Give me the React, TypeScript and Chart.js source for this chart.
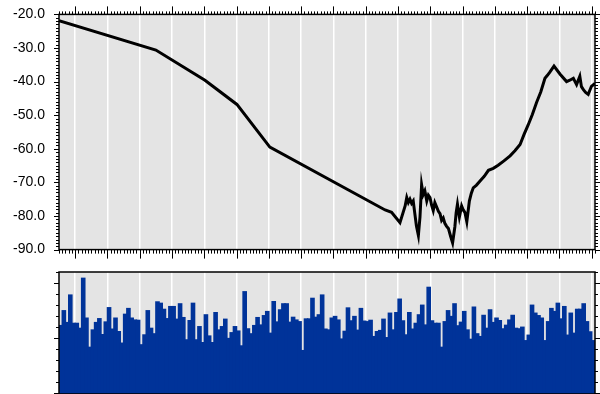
import React, { useEffect, useRef } from "react";
import { Chart, registerables } from "chart.js";

Chart.register(...registerables);

// ---- data ----
const X_MAX = 166;
const gridTicks = [5, 15, 25, 35, 45, 55, 65, 75, 85, 95, 105, 115, 125, 135, 145, 155, 165];
const yTickValues = [-90, -80, -70, -60, -50, -40, -30, -20];

const lineX = [
  0, 30.0, 45.2, 55.1, 65.3, 101.0, 103.0, 105.6, 107.2, 107.7, 108.2, 108.7, 109.2, 109.7, 110.2, 110.7,
  111.3, 111.8, 112.3, 112.8, 113.3, 113.9, 114.4, 114.9, 115.4, 115.9, 116.4, 117.0, 117.5, 118.0, 118.5,
  119.0, 119.5, 120.0, 120.6, 121.3, 121.9, 122.6, 123.0, 123.4, 124.0, 124.7, 125.2, 125.7, 126.3, 127.1,
  127.7, 128.3, 129.3, 130.4, 131.7, 133.0, 134.5, 136.0, 137.8, 139.7, 141.2, 142.8, 144.0, 145.3, 146.6,
  147.9, 149.2, 150.5, 151.2, 151.9, 153.3, 155.2, 157.2, 158.2, 159.3, 160.3, 161.3, 161.8, 162.4, 163.1,
  163.9, 164.9, 166.0,
];
const lineY = [
  -21.9, -30.6, -39.6, -46.8, -59.5, -78.2, -78.9, -82.0, -77.0, -74.5, -76.0, -75.0, -76.2, -75.5, -79.3, -83.0,
  -85.8, -80.3, -70.7, -73.6, -72.5, -75.5, -73.8, -74.5, -76.8, -78.4, -76.0, -77.4, -78.6, -79.3, -81.3,
  -80.6, -82.2, -83.0, -83.7, -86.1, -88.0, -83.2, -79.0, -76.5, -80.3, -77.0, -78.2, -78.9, -81.7, -75.5,
  -73.2, -71.6, -70.8, -69.6, -68.2, -66.4, -65.8, -64.9, -63.6, -62.1, -60.6, -58.7, -55.8, -52.9, -49.8,
  -46.2, -43.1, -39.0, -38.2, -37.3, -35.4, -37.8, -40.0, -39.6, -39.0, -40.9, -38.4, -41.5, -42.4, -43.2,
  -43.8, -41.4, -40.5,
];

const barValues = [
  24.5, 29.9, 25.6, 35.6, 25.3, 25.3, 23.5, 41.7, 27.2, 16.6, 22.9, 25.6, 27.0, 21.2, 25.8, 31.0, 23.2, 27.2,
  22.3, 18.1, 28.6, 30.7, 27.2, 26.5, 26.4, 17.5, 21.1, 29.9, 23.5, 21.5, 33.1, 32.6, 30.4, 27.0, 31.4, 31.4,
  26.8, 32.4, 27.4, 19.3, 26.3, 32.6, 19.3,
  24.1, 18.3, 28.4, 20.7, 18.3, 29.2, 22.9, 24.1, 26.8, 19.8, 21.9, 24.1, 22.5, 17.1, 36.8, 23.3, 21.5, 24.5,
  27.4, 24.7, 28.1, 29.6, 21.7, 33.2, 25.8, 30.2, 32.4, 32.4, 25.7, 27.5, 26.5, 25.9, 15.4, 26.9, 26.9, 34.4,
  27.5, 28.4, 35.6, 23.2, 22.9, 27.2, 27.8, 26.5, 19.6, 22.4, 30.9, 26.2, 27.8, 22.8, 30.7, 26.1, 25.9, 26.4,
  20.5, 22.3, 22.7, 26.8, 20.1, 29.0, 22.9, 29.2,
  34.1, 26.2, 21.1, 29.2, 23.2, 25.3, 28.4, 31.9, 24.7, 38.4, 26.2, 25.3, 25.3, 16.6, 25.9, 29.9, 27.8, 32.4,
  24.4, 25.7, 29.6, 22.9, 19.5, 31.2, 21.5, 20.5, 28.2, 23.5, 30.2, 25.6, 27.2, 26.3, 23.3, 24.6, 26.5, 28.2,
  23.5, 23.3, 23.9, 19.0, 21.0, 31.9, 29.0, 28.1, 27.2, 19.0, 25.9, 30.7, 29.6, 32.6, 26.9, 31.4, 21.0, 29.0,
  21.7, 30.4, 30.4, 32.4, 25.9, 22.2, 19.0,
];

const BG = "#e4e4e4";
const BAR_COLOR = "#003399";
const FONT = "'Liberation Sans', Arial, sans-serif";

// ---- plugin: background, frame and tick marks drawn through the scales ----
const frameTicks = {
  id: "frameTicks",
  beforeDraw(chart: any) {
    const { ctx, chartArea: a } = chart;
    ctx.save();
    ctx.fillStyle = BG;
    ctx.fillRect(a.left, a.top, a.right - a.left, a.bottom - a.top);
    ctx.restore();
  },
  afterDraw(chart: any, _args: any, o: any) {
    const { ctx, chartArea: a, scales } = chart;
    const xs = scales.x;
    const ys = scales.y;
    ctx.save();
    ctx.strokeStyle = "#000";
    ctx.lineWidth = 1;
    ctx.beginPath();
    if (o.xTop || o.xBottom) {
      for (let v = Math.ceil(xs.min); v <= xs.max; v += 1) {
        const px = Math.round(xs.getPixelForValue(v)) + 0.5;
        const major = (v - 5) % 10 === 0;
        if (o.xTop) {
          ctx.moveTo(px, a.top);
          ctx.lineTo(px, a.top - (major ? 8 : 3));
        }
        if (o.xBottom) {
          ctx.moveTo(px, a.bottom);
          ctx.lineTo(px, a.bottom + (major ? 9 : 4));
        }
      }
    }
    const start = Math.ceil(ys.min / o.yMinor) * o.yMinor;
    for (let v = start; v <= ys.max + 1e-6; v += o.yMinor) {
      const py = Math.round(ys.getPixelForValue(v)) + 0.5;
      const major = Math.abs(v % o.yMajor) < 1e-6;
      ctx.moveTo(a.left, py);
      ctx.lineTo(a.left - (major ? 5 : 3), py);
      ctx.moveTo(a.right, py);
      ctx.lineTo(a.right + (major ? 5 : 3), py);
    }
    ctx.stroke();
    ctx.lineWidth = 1.5;
    ctx.strokeRect(a.left, a.top, a.right - a.left, a.bottom - a.top);
    ctx.restore();
  },
};

const TopChart = () => {
  const ref = useRef<HTMLCanvasElement>(null);
  useEffect(() => {
    const chart = new Chart(ref.current as HTMLCanvasElement, {
      type: "line",
      data: {
        datasets: [
          {
            data: lineX.map((x, i) => ({ x, y: lineY[i] })),
            borderColor: "#000",
            borderWidth: 3,
            pointRadius: 0,
            tension: 0,
            fill: false,
          },
        ],
      },
      options: {
        animation: false,
        responsive: false,
        layout: { padding: { top: 14, right: 5, left: 0, bottom: 0 } },
        plugins: {
          legend: { display: false },
          tooltip: { enabled: false },
          frameTicks: { xTop: true, xBottom: true, yMinor: 1, yMajor: 10 },
        } as any,
        scales: {
          x: {
            type: "linear",
            min: 0,
            max: X_MAX,
            afterBuildTicks: (s: any) => {
              s.ticks = gridTicks.map((value) => ({ value }));
            },
            afterFit: (s: any) => {
              s.height = 7;
            },
            ticks: { display: false },
            grid: { color: "#ffffff", lineWidth: 1.5, drawTicks: false },
            border: { display: false },
          },
          y: {
            type: "linear",
            min: -90,
            max: -20,
            afterBuildTicks: (s: any) => {
              s.ticks = yTickValues.map((value) => ({ value }));
            },
            afterFit: (s: any) => {
              s.width = 59;
            },
            ticks: {
              padding: 6,
              color: "#000",
              font: { family: FONT, size: 14 },
              callback: (v: any) => Number(v).toFixed(1),
            },
            grid: { display: false },
            border: { display: false },
          },
        },
      },
      plugins: [frameTicks],
    });
    return () => chart.destroy();
  }, []);
  return <canvas ref={ref} width={600} height={264} style={{ display: "block", width: 600, height: 264 }} />;
};

const BottomChart = () => {
  const ref = useRef<HTMLCanvasElement>(null);
  useEffect(() => {
    const chart = new Chart(ref.current as HTMLCanvasElement, {
      type: "bar",
      data: {
        datasets: [
          {
            data: barValues.map((y, i) => ({ x: i + 0.5, y })),
            backgroundColor: BAR_COLOR,
            borderWidth: 0,
            barPercentage: 1,
            categoryPercentage: 1,
            inflateAmount: 0.7,
            base: -0.36,
          } as any,
        ],
      },
      options: {
        animation: false,
        responsive: false,
        layout: { padding: { top: 8, right: 5, left: 0, bottom: 0 } },
        plugins: {
          legend: { display: false },
          tooltip: { enabled: false },
          frameTicks: { xTop: false, xBottom: false, yMinor: 4, yMajor: 20 },
        } as any,
        scales: {
          x: {
            type: "linear",
            min: 0,
            max: X_MAX,
            offset: false,
            afterBuildTicks: (s: any) => {
              s.ticks = gridTicks.map((value) => ({ value }));
            },
            afterFit: (s: any) => {
              s.height = 0;
            },
            ticks: { display: false },
            grid: { color: "#ffffff", lineWidth: 1.5, drawTicks: false, offset: false },
            border: { display: false },
          },
          y: {
            type: "linear",
            min: -0.36,
            max: 44,
            afterFit: (s: any) => {
              s.width = 59;
            },
            ticks: { display: false },
            grid: { display: false },
            border: { display: false },
          },
        },
      },
      plugins: [frameTicks],
    });
    return () => chart.destroy();
  }, []);
  return <canvas ref={ref} width={600} height={130} style={{ display: "block", width: 600, height: 130 }} />;
};

export default function App() {
  return (
    <div style={{ position: "absolute", left: 0, top: 0, width: 600, height: 394, background: "#fff", overflow: "hidden" }}>
      <TopChart />
      <BottomChart />
    </div>
  );
}
